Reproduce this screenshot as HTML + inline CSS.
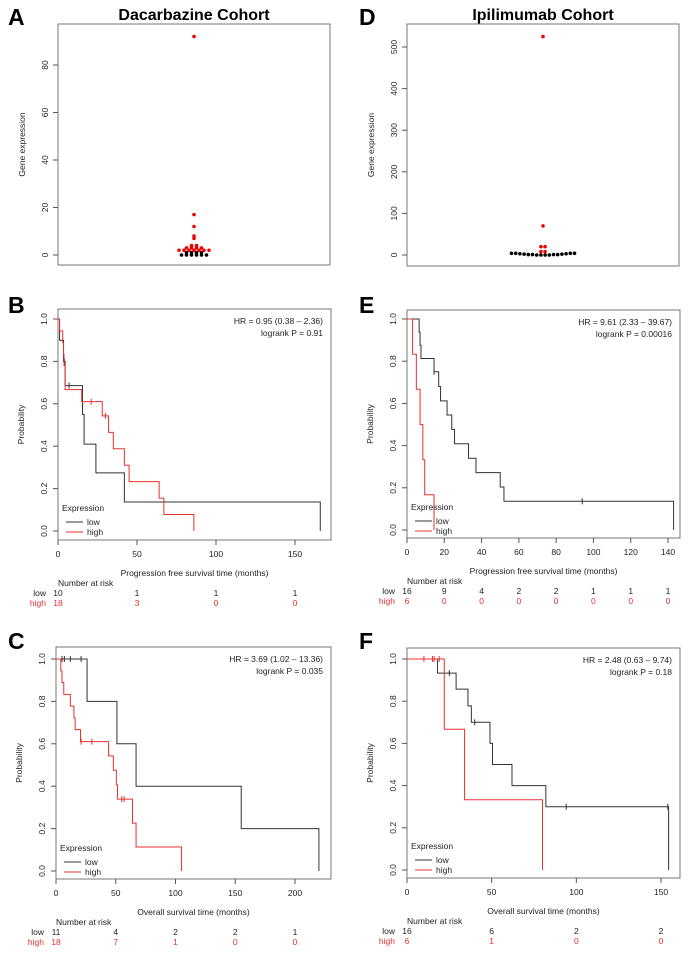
<!DOCTYPE html>
<html><head><meta charset="utf-8"><style>
body{margin:0;background:#fff}
svg{display:block;font-family:"Liberation Sans",sans-serif}
.t{font-size:8.5px;fill:#222}
</style></head><body>
<svg id="fig" width="699" height="957" viewBox="0 0 699 957"></svg>
<script>
// ---- Scatter data ----
const dacHigh=[92,17,12,8,7,4,4,3,3,3,3,2,2,2,2,2,2,2];
const dacLow=[1,1,0,0,0,0,0,0,1,1];
const dacTicks=[0,20,40,60,80];
const ipiHigh=[525,70,20,20,8,8];
const ipiLow=[4,4,3,2,1,1,0,0,0,0,1,1,2,3,4,4];
const ipiTicks=[0,100,200,300,400,500];
// ---- KM data: B (PFS dacarbazine) ----
const bLowT=[1,3.5,4.5,15.5,16.5,24,42,166];
const bLowS=[0.9,0.8,0.686,0.55,0.41,0.274,0.137,0];
const bLowC=[4,7];
const bHighT=[1,3,3.5,3.8,4.5,15,28,32,35,42,45,64,67,86];
const bHighS=[0.944,0.889,0.833,0.78,0.667,0.61,0.543,0.465,0.388,0.31,0.233,0.155,0.078,0];
const bHighC=[21,30];
const bTicks=[0,50,100,150];
const bRiskLow=[10,1,1,1];const bRiskHigh=[18,3,0,0];
// ---- E (PFS ipilimumab) ----
const eLowT=[6.5,7,7.5,14.5,17,18,21.5,24,25.5,33,37,50,52,143];
const eLowS=[0.938,0.875,0.813,0.75,0.68,0.612,0.545,0.477,0.409,0.34,0.272,0.204,0.136,0];
const eLowC=[14.5,94];
const eHighT=[3,5,7,8.5,9.5,14.5];
const eHighS=[0.833,0.667,0.5,0.333,0.167,0];
const eHighC=[];
const eTicks=[0,20,40,60,80,100,120,140];
const eRiskLow=[16,9,4,2,2,1,1,1];const eRiskHigh=[6,0,0,0,0,0,0,0];
// ---- C (OS dacarbazine) ----
const cLowT=[26,51,67,155,220];
const cLowS=[0.8,0.6,0.4,0.2,0];
const cLowC=[5,7,12,21];
const cHighT=[4,5,6.5,12,15,16,20.5,44,48,50.5,51.5,64,67,105];
const cHighS=[0.944,0.889,0.833,0.778,0.722,0.667,0.61,0.543,0.475,0.407,0.339,0.226,0.113,0];
const cHighC=[21,30,55,57];
const cTicks=[0,50,100,150,200];
const cRiskLow=[11,4,2,2,1];const cRiskHigh=[18,7,1,0,0];
// ---- F (OS ipilimumab) ----
const fLowT=[18,29,36,38,49,50.5,62,82,154.5];
const fLowS=[0.933,0.857,0.778,0.7,0.6,0.5,0.4,0.3,0];
const fLowC=[25,40,94,154];
const fHighT=[22,34,80];
const fHighS=[0.667,0.333,0];
const fHighC=[10,15,16,19];
const fTicks=[0,50,100,150];
const fRiskLow=[16,6,2,2];const fRiskHigh=[6,1,0,0];
const probTicks=[0,0.2,0.4,0.6,0.8,1.0];

const NS='http://www.w3.org/2000/svg';
const svg=document.getElementById('fig');
function el(tag,attrs,parent){const e=document.createElementNS(NS,tag);for(const k in attrs)e.setAttribute(k,attrs[k]);(parent||svg).appendChild(e);return e;}
function txt(x,y,s,cls,extra,parent){const e=el('text',Object.assign({x:x,y:y},cls?{class:cls}:{},extra||{}),parent);e.textContent=s;return e;}

function letter(x,y,s){const t=txt(x,y,s,null,{style:'font-size:23px;font-weight:bold;fill:#000'});

}

function scatter(name,box,ymax,ticks,hi,lo,cx,title,binPx,sp){
  const g=el('g',{});
  
  
  const [x0,y0,x1,y1]=box, yb=box[4], yt=box[5];
  const ys=v=>yb-(v/ymax)*(yb-yt);
  el('rect',{x:x0,y:y0,width:x1-x0,height:y1-y0,fill:'none',stroke:'#777','stroke-width':1},g);
  const tt=txt((x0+x1)/2,20,title,null,{style:'font-size:16px;font-weight:bold;fill:#000','text-anchor':'middle'},g);
  
  
  ticks.forEach(v=>{const y=ys(v);el('line',{x1:x0-5,x2:x0,y1:y,y2:y,stroke:'#555'},g);
    txt(x0-10,y,String(v),'t',{'text-anchor':'middle',transform:`rotate(-90 ${x0-10} ${y})`},g);});
  const yl=txt(x0-33,(y0+y1)/2,'Gene expression','t',{'text-anchor':'middle',transform:`rotate(-90 ${x0-33} ${(y0+y1)/2})`},g);
  
  
  function swarm(vals,color,pname){
    const bins={};vals.forEach(v=>{const k=Math.round((yb-ys(v))/binPx);(bins[k]=bins[k]||[]).push(v);});
    Object.values(bins).forEach(arr=>{arr.forEach((v,i)=>{const off=(i-(arr.length-1)/2)*sp;
      const c=el('circle',{cx:cx+off,cy:ys(v),r:1.8,fill:color},g);
      
      });});
  }
  swarm(lo,'#000','point-low');
  swarm(hi,'#e00','point-high');
}
scatter('dacarbazine-scatter',[58,24,330,265,255,65],80,dacTicks,dacHigh,dacLow,194,'Dacarbazine Cohort',2.2,5);
scatter('ipilimumab-scatter',[407,24,679,266,255,47],500,ipiTicks,ipiHigh,ipiLow,543,'Ipilimumab Cohort',5,4.2);

function km(name,cfg){
  const g=el('g',{});
  
  
  const [bx0,by0,bx1,by1]=cfg.box;
  const xs=t=>cfg.x0+t*cfg.k, ys=p=>cfg.yZero-p*(cfg.yZero-cfg.yOne);
  el('rect',{x:bx0,y:by0,width:bx1-bx0,height:by1-by0,fill:'none',stroke:'#777'},g);
  probTicks.forEach(p=>{const y=ys(p);el('line',{x1:bx0-5,x2:bx0,y1:y,y2:y,stroke:'#555'},g);
    txt(bx0-11,y,p.toFixed(1),'t',{'text-anchor':'middle',transform:`rotate(-90 ${bx0-11} ${y})`},g);});
  const yl=txt(bx0-34,(by0+by1)/2,'Probability','t',{'text-anchor':'middle',transform:`rotate(-90 ${bx0-34} ${(by0+by1)/2})`},g);
  
  
  cfg.ticks.forEach(t=>{const x=xs(t);el('line',{x1:x,x2:x,y1:by1,y2:by1+5,stroke:'#555'},g);
    txt(x,by1+17,String(t),'t',{'text-anchor':'middle'},g);});
  const xl=txt((bx0+bx1)/2,by1+36,cfg.xlabel,'t',{'text-anchor':'middle'},g);
  
  
  function curve(T,S,C,color,sname){
    let d=`M${xs(0)},${ys(1)}`;
    T.forEach((t,i)=>{d+=`H${xs(t)}V${ys(S[i])}`;});
    const path=el('path',{d:d,fill:'none',stroke:color,'stroke-width':1},g);
    
    
    C.forEach(c=>{let s=1;T.forEach((t,i)=>{if(t<=c)s=S[i];});
      const m=el('line',{x1:xs(c),x2:xs(c),y1:ys(s)-3,y2:ys(s)+3,stroke:color},g);
      
      });
  }
  curve(cfg.lowT,cfg.lowS,cfg.lowC,'#333','curve-low');
  curve(cfg.highT,cfg.highS,cfg.highC,'#e83030','curve-high');
  const hr=txt(bx1-8,by0+15,cfg.hr,'t',{'text-anchor':'end'},g);
  
  
  txt(bx1-8,by0+27,cfg.p,'t',{'text-anchor':'end'},g);
  const lg=el('g',{},g);
  
  
  const ly=cfg.legY;
  txt(bx0+4,ly,'Expression','t',{},lg);
  el('line',{x1:bx0+8,x2:bx0+25,y1:ly+11,y2:ly+11,stroke:'#333'},lg);
  txt(bx0+29,ly+14,'low','t',{},lg);
  el('line',{x1:bx0+8,x2:bx0+25,y1:ly+21,y2:ly+21,stroke:'#e83030'},lg);
  txt(bx0+29,ly+24,'high','t',{},lg);
  const r=el('g',{},g);
  
  
  const ry=by1+46;
  txt(bx0,ry,'Number at risk','t',{},r);
  txt(bx0-12,ry+10,'low','t',{'text-anchor':'end'},r);
  txt(bx0-12,ry+20,'high','t',{'text-anchor':'end',style:'fill:#e83030'},r);
  cfg.ticks.forEach((t,i)=>{const x=xs(t);
    txt(x,ry+10,String(cfg.rl[i]),'t',{'text-anchor':'middle'},r);
    txt(x,ry+20,String(cfg.rh[i]),'t',{'text-anchor':'middle',style:'fill:#e83030'},r);});
}
km('km-pfs-dacarbazine',{box:[58,309,331,540],x0:58,k:(295-58)/150,yOne:319,yZero:531,ticks:bTicks,
 xlabel:'Progression free survival time (months)',lowT:bLowT,lowS:bLowS,lowC:bLowC,highT:bHighT,highS:bHighS,highC:bHighC,
 hr:'HR = 0.95 (0.38 \u2013 2.36)',p:'logrank P = 0.91',legY:511,rl:bRiskLow,rh:bRiskHigh});
km('km-pfs-ipilimumab',{box:[407,310,680,538],x0:407,k:(668-407)/140,yOne:319,yZero:530,ticks:eTicks,
 xlabel:'Progression free survival time (months)',lowT:eLowT,lowS:eLowS,lowC:eLowC,highT:eHighT,highS:eHighS,highC:eHighC,
 hr:'HR = 9.61 (2.33 \u2013 39.67)',p:'logrank P = 0.00016',legY:510,rl:eRiskLow,rh:eRiskHigh});
km('km-os-dacarbazine',{box:[56,647,331,879],x0:56,k:(295-56)/200,yOne:659,yZero:871,ticks:cTicks,
 xlabel:'Overall survival time (months)',lowT:cLowT,lowS:cLowS,lowC:cLowC,highT:cHighT,highS:cHighS,highC:cHighC,
 hr:'HR = 3.69 (1.02 \u2013 13.36)',p:'logrank P = 0.035',legY:851,rl:cRiskLow,rh:cRiskHigh});
km('km-os-ipilimumab',{box:[407,648,680,878],x0:407,k:(661-407)/150,yOne:659,yZero:870,ticks:fTicks,
 xlabel:'Overall survival time (months)',lowT:fLowT,lowS:fLowS,lowC:fLowC,highT:fHighT,highS:fHighS,highC:fHighC,
 hr:'HR = 2.48 (0.63 \u2013 9.74)',p:'logrank P = 0.18',legY:849,rl:fRiskLow,rh:fRiskHigh});

letter(8,25,'A');letter(8,313,'B');letter(8,649,'C');
letter(359,25,'D');letter(359,313,'E');letter(359,649,'F');
</script>
</body></html>
